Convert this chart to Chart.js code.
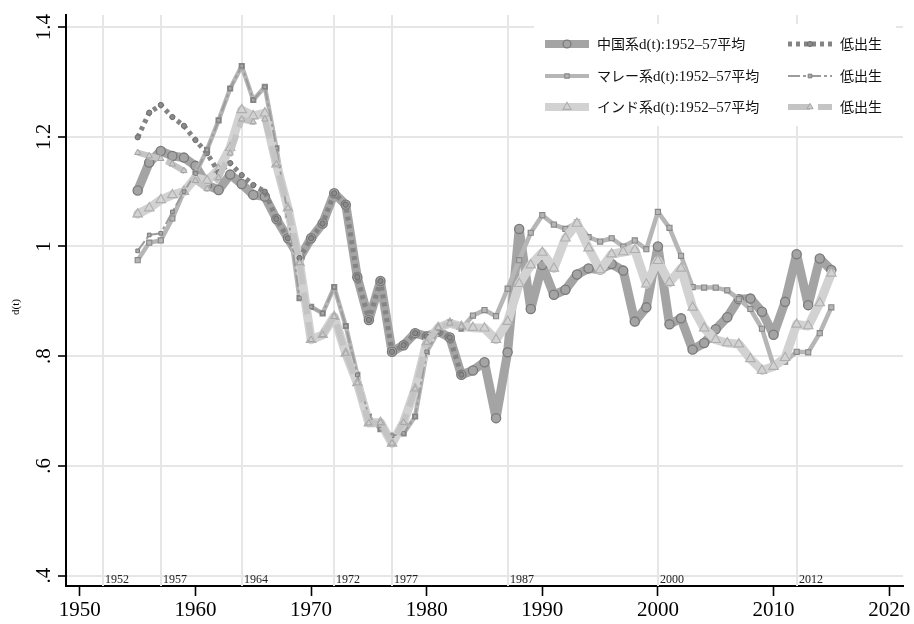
<!DOCTYPE html>
<html>
<head>
<meta charset="utf-8">
<script src="https://cdn.jsdelivr.net/npm/chart.js@4/dist/chart.umd.min.js"></script>
<style>
  html, body { margin: 0; padding: 0; background: #ffffff; }
  #wrap { width: 914px; height: 624px; }
</style>
</head>
<body>
<div id="wrap"><canvas id="c" width="914" height="624"></canvas></div>
<script>
// Years covered by the main series
const years = [
  1955, 1956, 1957, 1958, 1959, 1960, 1961, 1962, 1963, 1964,
  1965, 1966, 1967, 1968, 1969, 1970, 1971, 1972, 1973, 1974,
  1975, 1976, 1977, 1978, 1979, 1980, 1981, 1982, 1983, 1984,
  1985, 1986, 1987, 1988, 1989, 1990, 1991, 1992, 1993, 1994,
  1995, 1996, 1997, 1998, 1999, 2000, 2001, 2002, 2003, 2004,
  2005, 2006, 2007, 2008, 2009, 2010, 2011, 2012, 2013, 2014, 2015
];
// Years covered by the low-birth series
const lowYears = [
  1955, 1956, 1957, 1958, 1959, 1960, 1961, 1962, 1963, 1964,
  1965, 1966, 1967, 1968, 1969, 1970, 1971, 1972, 1973, 1974,
  1975, 1976, 1977, 1978, 1979, 1980, 1981, 1982, 1983
];

// d(t) relative to the 1952–57 average
const chineseMain = [
  1.102, 1.153, 1.174, 1.165, 1.162, 1.147, 1.112, 1.103, 1.131, 1.114,
  1.094, 1.091, 1.050, 1.015, 0.979, 1.015, 1.042, 1.097, 1.076, 0.944,
  0.866, 0.937, 0.808, 0.820, 0.842, 0.836, 0.845, 0.834, 0.766, 0.774,
  0.789, 0.687, 0.807, 1.032, 0.886, 0.966, 0.912, 0.921, 0.949, 0.960,
  0.958, 0.968, 0.956, 0.863, 0.889, 1.000, 0.858, 0.869, 0.812, 0.824,
  0.849, 0.871, 0.904, 0.905, 0.881, 0.839, 0.899, 0.986, 0.893, 0.978, 0.957
];
const malayMain = [
  0.975, 1.007, 1.011, 1.051, 1.100, 1.133, 1.176, 1.230, 1.288, 1.329,
  1.267, 1.291, 1.179, 1.057, 0.906, 0.890, 0.878, 0.926, 0.855, 0.766,
  0.690, 0.667, 0.655, 0.659, 0.690, 0.808, 0.845, 0.862, 0.850, 0.874,
  0.884, 0.873, 0.923, 0.975, 1.025, 1.057, 1.040, 1.032, 1.044, 1.017,
  1.009, 1.015, 1.000, 1.011, 0.995, 1.063, 1.034, 0.983, 0.926, 0.925,
  0.925, 0.920, 0.904, 0.886, 0.850, 0.783, 0.790, 0.808, 0.807, 0.842, 0.889
];
const indianMain = [
  1.059, 1.070, 1.085, 1.094, 1.100, 1.125, 1.120, 1.140, 1.180, 1.249,
  1.238, 1.243, 1.150, 1.070, 0.970, 0.830, 0.839, 0.872, 0.805, 0.751,
  0.678, 0.679, 0.641, 0.679, 0.740, 0.825, 0.852, 0.860, 0.854, 0.852,
  0.851, 0.830, 0.863, 0.932, 0.966, 0.989, 0.960, 1.015, 1.042, 0.997,
  0.957, 0.986, 0.990, 0.994, 0.931, 0.974, 0.934, 0.960, 0.889, 0.851,
  0.830, 0.824, 0.822, 0.795, 0.774, 0.781, 0.797, 0.858, 0.855, 0.897, 0.951
];

// d(t) for the low-birth variant
const chineseLow = [
  1.199, 1.244, 1.258, 1.236, 1.220, 1.194, 1.170, 1.135, 1.152, 1.130,
  1.112, 1.100, 1.050, 1.015, 0.979, 1.015, 1.042, 1.097, 1.076, 0.944,
  0.866, 0.937, 0.808, 0.820, 0.842, 0.836, 0.845, 0.834, 0.766
];
const malayLow = [
  0.992, 1.021, 1.024, 1.063, 1.100, 1.133, 1.176, 1.230, 1.288, 1.329,
  1.267, 1.291, 1.179, 1.057, 0.906, 0.890, 0.878, 0.926, 0.855, 0.766,
  0.690, 0.667, 0.655, 0.659, 0.690, 0.808, 0.845, 0.862, 0.850
];
const indianLow = [
  1.171, 1.165, 1.160, 1.150, 1.138, 1.120, 1.105, 1.125, 1.170, 1.232,
  1.227, 1.232, 1.150, 1.070, 0.970, 0.830, 0.839, 0.872, 0.805, 0.751,
  0.678, 0.679, 0.641, 0.679, 0.740, 0.825, 0.852, 0.860, 0.854
];

// Axis ticks and labels
const xTicks = [1950, 1960, 1970, 1980, 1990, 2000, 2010, 2020];
const yTicks = [0.4, 0.6, 0.8, 1.0, 1.2, 1.4];
const yTickLabels = ['.4', '.6', '.8', '1', '1.2', '1.4'];
const yTitle = 'd(t)';

// Reference years marked with vertical lines
const eventYears = [1952, 1957, 1964, 1972, 1977, 1987, 2000, 2012];

// Legend entries
const legendMain = [
  ['中国系', 'd(t):1952–57', '平均'],
  ['マレー系', 'd(t):1952–57', '平均'],
  ['インド系', 'd(t):1952–57', '平均']
];
const legendLow = '低出生';

const SERIF = "'Liberation Serif', 'Times New Roman', serif";
const CJK = "'Noto Sans CJK JP', 'Noto Sans CJK SC', sans-serif";

// Visual styles for each series
const styles = {
  chineseMain: { color: '#a4a4a4', width: 9, dash: [], point: 'circle', r: 4.6, pb: '#7a7a7a', pf: '#a4a4a4', pw: 1.3 },
  malayMain:   { color: '#b6b6b6', width: 4.5, dash: [], point: 'rect', r: 3.6, pb: '#888888', pf: '#b6b6b6', pw: 1.1 },
  indianMain:  { color: '#d2d2d2', width: 9, dash: [], point: 'triangle', r: 5.5, pb: '#aeaeae', pf: '#d2d2d2', pw: 1.1 },
  chineseLow:  { color: '#848484', width: 5, dash: [4, 4], point: 'circle', r: 2.6, pb: '#6e6e6e', pf: '#8a8a8a', pw: 1 },
  malayLow:    { color: '#9c9c9c', width: 2, dash: [12, 3, 3, 3], point: 'rect', r: 2.6, pb: '#7c7c7c', pf: '#a8a8a8', pw: 1 },
  indianLow:   { color: '#c4c4c4', width: 6, dash: [22, 8], point: 'triangle', r: 3.6, pb: '#a4a4a4', pf: '#cccccc', pw: 1 }
};

function toPoints(xs, ys) {
  return xs.map((x, i) => ({ x: x, y: ys[i] }));
}

function makeDataset(label, xs, ys, s, order) {
  return {
    label: label,
    data: toPoints(xs, ys),
    borderColor: s.color,
    borderWidth: s.width,
    borderDash: s.dash,
    borderJoinStyle: 'round',
    borderCapStyle: s.dash.length ? 'butt' : 'round',
    fill: false,
    tension: 0,
    pointStyle: s.point,
    pointRadius: s.r,
    pointHoverRadius: s.r,
    pointBorderColor: s.pb,
    pointBackgroundColor: s.pf,
    pointBorderWidth: s.pw,
    order: order
  };
}

// Vertical reference lines with small year labels
const eventLinesPlugin = {
  id: 'eventLines',
  beforeDatasetsDraw(chart) {
    const { ctx, chartArea, scales } = chart;
    ctx.save();
    ctx.strokeStyle = '#e6e6e6';
    ctx.lineWidth = 2;
    eventYears.forEach(yr => {
      const px = Math.round(scales.x.getPixelForValue(yr));
      ctx.beginPath();
      ctx.moveTo(px, chartArea.top);
      ctx.lineTo(px, chartArea.bottom);
      ctx.stroke();
    });
    ctx.fillStyle = '#222222';
    ctx.font = '12px ' + SERIF;
    ctx.textAlign = 'left';
    ctx.textBaseline = 'alphabetic';
    eventYears.forEach(yr => {
      const px = Math.round(scales.x.getPixelForValue(yr));
      ctx.fillText(String(yr), px + 2, chartArea.bottom - 3);
    });
    ctx.restore();
  }
};

// Rotated y tick labels, axis title and the legend box
const overlayPlugin = {
  id: 'overlay',
  afterDraw(chart) {
    const { ctx, scales } = chart;
    ctx.save();
    ctx.fillStyle = '#000000';
    ctx.font = '21px ' + SERIF;
    ctx.textAlign = 'center';
    ctx.textBaseline = 'middle';
    yTicks.forEach((v, i) => {
      const py = scales.y.getPixelForValue(v);
      ctx.save();
      ctx.translate(44, py);
      ctx.rotate(-Math.PI / 2);
      ctx.fillText(yTickLabels[i], 0, 0);
      ctx.restore();
    });
    ctx.font = '11px ' + SERIF;
    ctx.save();
    ctx.translate(16, 307);
    ctx.rotate(-Math.PI / 2);
    ctx.fillText(yTitle, 0, 0);
    ctx.restore();
    ctx.restore();

    drawLegend(ctx);
  }
};

function drawMarker(ctx, kind, x, y, r, stroke, fill, lw) {
  ctx.save();
  ctx.setLineDash([]);
  ctx.fillStyle = fill;
  ctx.strokeStyle = stroke;
  ctx.lineWidth = lw;
  ctx.beginPath();
  if (kind === 'circle') {
    ctx.arc(x, y, r, 0, Math.PI * 2);
  } else if (kind === 'rect') {
    const h = r * Math.SQRT1_2;
    ctx.rect(x - h, y - h, 2 * h, 2 * h);
  } else {
    const a = Math.PI / 2;
    for (let k = 0; k < 3; k++) {
      const ang = -a + k * (2 * Math.PI / 3);
      const px = x + r * Math.cos(ang), py = y + r * Math.sin(ang);
      if (k === 0) ctx.moveTo(px, py); else ctx.lineTo(px, py);
    }
    ctx.closePath();
  }
  ctx.fill();
  ctx.stroke();
  ctx.restore();
}

function drawKey(ctx, x0, x1, y, s, widthScale, markerScale) {
  ctx.save();
  ctx.strokeStyle = s.color;
  ctx.lineWidth = s.width * widthScale;
  ctx.setLineDash(s.dash);
  ctx.lineCap = 'butt';
  ctx.beginPath();
  ctx.moveTo(x0, y);
  ctx.lineTo(x1, y);
  ctx.stroke();
  ctx.restore();
  drawMarker(ctx, s.point, (x0 + x1) / 2, y, s.r * markerScale, s.pb, s.pf, s.pw);
}

function drawLegend(ctx) {
  ctx.save();
  ctx.fillStyle = '#ffffff';
  ctx.fillRect(534, 24, 362, 102);
  const rows = [44, 76, 107];
  const mainStyles = [styles.chineseMain, styles.malayMain, styles.indianMain];
  const lowStyles = [styles.chineseLow, styles.malayLow, styles.indianLow];
  rows.forEach((y, i) => {
    drawKey(ctx, 545, 589, y, mainStyles[i], 0.9, 0.85);
    drawKey(ctx, 788, 832, y, lowStyles[i], 1, 1);
    let x = 597;
    ctx.fillStyle = '#111111';
    ctx.textAlign = 'left';
    ctx.textBaseline = 'middle';
    legendMain[i].forEach((seg, k) => {
      ctx.font = (k === 1 ? '15px ' + SERIF : '14px ' + CJK);
      ctx.fillText(seg, x, y + (k === 1 ? 1 : 0));
      x += ctx.measureText(seg).width;
    });
    ctx.font = '14px ' + CJK;
    ctx.fillText(legendLow, 840, y);
  });
  ctx.restore();
}

const chart = new Chart(document.getElementById('c'), {
  type: 'line',
  data: {
    datasets: [
      makeDataset('中国系d(t):1952–57平均', years, chineseMain, styles.chineseMain, 6),
      makeDataset('マレー系d(t):1952–57平均', years, malayMain, styles.malayMain, 5),
      makeDataset('インド系d(t):1952–57平均', years, indianMain, styles.indianMain, 4),
      makeDataset('中国系 低出生', lowYears, chineseLow, styles.chineseLow, 3),
      makeDataset('マレー系 低出生', lowYears, malayLow, styles.malayLow, 2),
      makeDataset('インド系 低出生', lowYears, indianLow, styles.indianLow, 1)
    ]
  },
  options: {
    responsive: false,
    animation: false,
    devicePixelRatio: 1,
    layout: { padding: { top: 15, right: 11, left: 0, bottom: 0 } },
    plugins: { legend: { display: false }, tooltip: { enabled: false } },
    scales: {
      x: {
        type: 'linear',
        min: 1948.8,
        max: 2021.2,
        afterBuildTicks: s => { s.ticks = xTicks.map(v => ({ value: v })); },
        afterFit: s => { s.height = 38; },
        ticks: {
          autoSkip: false,
          maxRotation: 0,
          padding: 2,
          color: '#000000',
          font: { family: SERIF, size: 21 },
          callback: v => String(v)
        },
        grid: { drawOnChartArea: false, drawTicks: true, tickLength: 10, tickColor: '#000000', tickWidth: 1.6 },
        border: { display: true, color: '#000000', width: 2 }
      },
      y: {
        type: 'linear',
        min: 0.381,
        max: 1.422,
        afterBuildTicks: s => { s.ticks = yTicks.map(v => ({ value: v })); },
        afterFit: s => { s.width = 66; },
        ticks: { display: false },
        grid: { color: '#e6e6e6', lineWidth: 2, drawTicks: true, tickLength: 8, tickColor: '#000000', tickWidth: 1.6 },
        border: { display: true, color: '#000000', width: 2 }
      }
    }
  },
  plugins: [eventLinesPlugin, overlayPlugin]
});
</script>
</body>
</html>
